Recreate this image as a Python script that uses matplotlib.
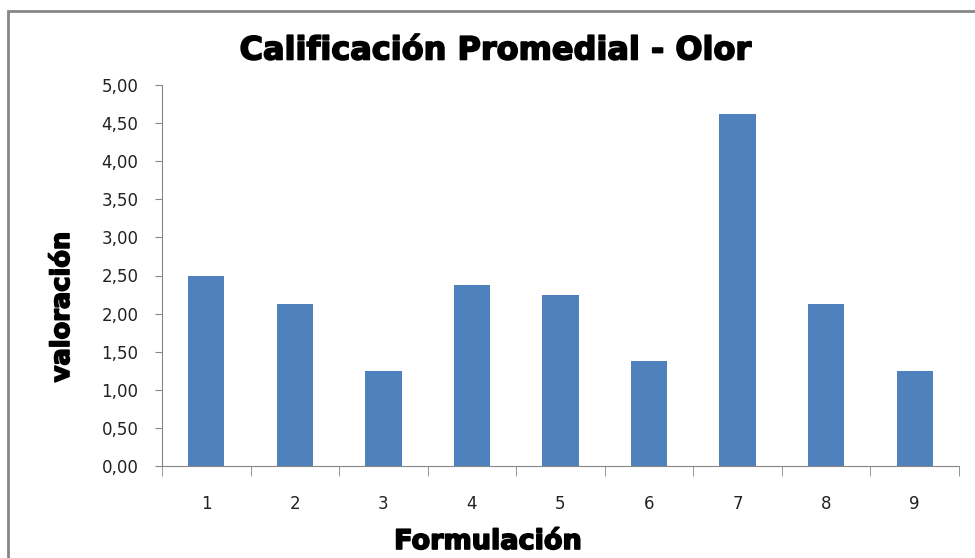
import matplotlib
matplotlib.use("Agg")
import matplotlib.pyplot as plt
import matplotlib.patheffects as pe
from matplotlib.patches import Rectangle
from matplotlib.ticker import FixedLocator, FuncFormatter

# datos del grafico
formulaciones = ["1", "2", "3", "4", "5", "6", "7", "8", "9"]
valoracion = [2.50, 2.125, 1.25, 2.375, 2.25, 1.375, 4.625, 2.125, 1.25]
y_ticks = [0.0, 0.5, 1.0, 1.5, 2.0, 2.5, 3.0, 3.5, 4.0, 4.5, 5.0]

GRIS = "#868686"
AZUL = "#4F81BD"

fig = plt.figure(figsize=(9.75, 5.58), dpi=100)
ax = fig.add_axes([162/975, 1 - 466/558, (959 - 162)/975, (466 - 85)/558])

x = list(range(1, len(formulaciones) + 1))
ax.bar(x, valoracion, width=0.41, color=AZUL, zorder=2)

ax.set_xlim(0.5, len(formulaciones) + 0.5)
ax.set_ylim(0, 5)

# eje y
ax.set_yticks(y_ticks)
ax.yaxis.set_major_formatter(FuncFormatter(lambda v, p: ("%.2f" % v).replace(".", ",")))
ax.tick_params(axis="y", which="major", length=5, color=GRIS, labelsize=12, pad=12, labelcolor="#222222")

# eje x: etiquetas al centro, marcas entre categorias
ax.set_xticks(x)
ax.set_xticklabels(formulaciones)
ax.xaxis.set_minor_locator(FixedLocator([i + 0.5 for i in range(0, len(formulaciones) + 1)]))
ax.tick_params(axis="x", which="major", length=0, labelsize=12, pad=21, labelcolor="#222222")
ax.tick_params(axis="x", which="minor", length=7, color=GRIS)

for s in ["top", "right"]:
    ax.spines[s].set_visible(False)
for s in ["left", "bottom"]:
    ax.spines[s].set_color(GRIS)

# textos (trazo extra para imitar la fuente gruesa)
grueso = [pe.withStroke(linewidth=1.2, foreground="black")]
fig.text(496/975, 1 - 51/558, "Calificación Promedial - Olor", ha="center", va="center",
         fontsize=23, fontweight="bold", path_effects=grueso)
fig.text(62/975, 1 - 307/558, "valoración", ha="center", va="center", rotation=90,
         fontsize=18.5, fontweight="bold", path_effects=grueso)
fig.text(488/975, 1 - 542/558, "Formulación", ha="center", va="center",
         fontsize=19.5, fontweight="bold", path_effects=grueso)

# borde del area del grafico (recortado a la derecha y abajo)
fig.patches.append(Rectangle((8/975, -0.1), 1.2, 1 - 11/558 + 0.1, transform=fig.transFigure,
                             fill=False, edgecolor=GRIS, linewidth=2))

fig.savefig("out.png", dpi=100)
